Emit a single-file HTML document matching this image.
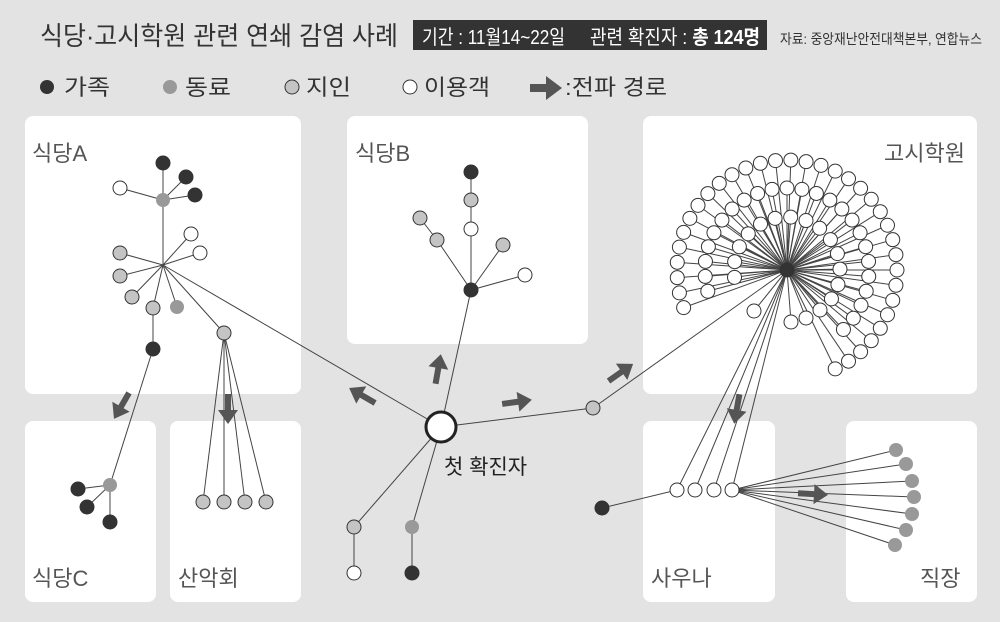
<!DOCTYPE html>
<html><head><meta charset="utf-8"><style>
html,body{margin:0;padding:0;background:#e3e3e3;}
body{width:1000px;height:622px;overflow:hidden;position:relative;font-family:"Liberation Sans","Noto Sans CJK KR",sans-serif;}
svg{position:absolute;left:0;top:0}
</style></head><body>
<svg id="s" width="1000" height="622" viewBox="0 0 1000 622" xmlns="http://www.w3.org/2000/svg" font-family="Liberation Sans, Noto Sans CJK KR, sans-serif">
<rect width="1000" height="622" fill="#e3e3e3"/>
<g fill="#fff">
<rect x="25" y="116" width="276" height="278" rx="8"/>
<rect x="347" y="116" width="241" height="228" rx="8"/>
<rect x="643" y="116" width="334" height="278" rx="8"/>
<rect x="25" y="421" width="131" height="181" rx="8"/>
<rect x="170" y="421" width="131" height="181" rx="8"/>
<rect x="643" y="421" width="132" height="181" rx="8"/>
<rect x="846" y="421" width="131" height="181" rx="8"/>
</g>
<text x="40" y="45" font-size="26" fill="#333" textLength="358" lengthAdjust="spacingAndGlyphs">식당·고시학원 관련 연쇄 감염 사례</text>
<rect x="413" y="20" width="354" height="30" fill="#333"/>
<text x="422" y="44" font-size="20" fill="#fff" textLength="143" lengthAdjust="spacingAndGlyphs">기간 : 11월14~22일</text>
<text x="590" y="44" font-size="20" fill="#fff" textLength="170" lengthAdjust="spacingAndGlyphs">관련 확진자 : <tspan font-weight="bold">총 124명</tspan></text>
<text x="780" y="44" font-size="14" fill="#333" textLength="202" lengthAdjust="spacingAndGlyphs">자료: 중앙재난안전대책본부, 연합뉴스</text>
<circle cx="47" cy="87" r="7" fill="#333"/>
<text x="64" y="95" font-size="22" fill="#333" textLength="46" lengthAdjust="spacingAndGlyphs">가족</text>
<circle cx="170" cy="87" r="7" fill="#999"/>
<text x="185" y="95" font-size="22" fill="#333" textLength="46" lengthAdjust="spacingAndGlyphs">동료</text>
<circle cx="292" cy="87" r="7" fill="#c4c4c4" stroke="#333" stroke-width="1"/>
<text x="306" y="95" font-size="22" fill="#333" textLength="45" lengthAdjust="spacingAndGlyphs">지인</text>
<circle cx="410" cy="87" r="7" fill="#fff" stroke="#333" stroke-width="1"/>
<text x="424" y="95" font-size="22" fill="#333" textLength="66" lengthAdjust="spacingAndGlyphs">이용객</text>
<polygon points="530,84 546,84 546,76 562,88 546,100 546,92 530,92" fill="#555"/>
<text x="565" y="95" font-size="22" fill="#333" textLength="102" lengthAdjust="spacingAndGlyphs">:전파 경로</text>
<g font-size="22" fill="#555">
<text x="32" y="161">식당A</text>
<text x="355" y="161">식당B</text>
<text x="884" y="161">고시학원</text>
<text x="32" y="586">식당C</text>
<text x="178" y="586">산악회</text>
<text x="651" y="586">사우나</text>
<text x="920" y="586">직장</text>
</g>
<text x="444" y="474" font-size="21" fill="#222">첫 확진자</text>
<g id="lines" stroke="#444" stroke-width="1" fill="none"></g>
<g id="nodes" stroke="#333" stroke-width="1"></g>
<g fill="#555" id="arrows"></g>
</svg>
<script>
var L=document.getElementById('lines'),N=document.getElementById('nodes'),A=document.getElementById('arrows');
var ns='http://www.w3.org/2000/svg';
function ln(a,b,c,d){var e=document.createElementNS(ns,'line');e.setAttribute('x1',a);e.setAttribute('y1',b);e.setAttribute('x2',c);e.setAttribute('y2',d);L.appendChild(e);}
var F={b:'#333',g:'#999',l:'#c4c4c4',w:'#fff'};
function nd(x,y,t,r){var e=document.createElementNS(ns,'circle');e.setAttribute('cx',x);e.setAttribute('cy',y);e.setAttribute('r',r||7);e.setAttribute('fill',F[t]);if(t=='g')e.setAttribute('stroke','none');N.appendChild(e);}
function P(x,y,t,px,py){if(px!==undefined)ln(px,py,x,y);nd(x,y,t);}
var hx=163,hy=265;
ln(441,427,hx,hy);
P(163,200,'g',hx,hy);P(163,163,'b',163,200);P(186,177,'b',163,200);P(195,195,'b',163,200);P(120,188,'w',163,200);
P(191,234,'w',hx,hy);P(200,253,'w',hx,hy);P(120,253,'l',hx,hy);P(120,276,'l',hx,hy);P(132,297,'l',hx,hy);P(177,307,'g',hx,hy);
ln(110,485,153,349);
P(153,308,'l',hx,hy);P(153,349,'b',153,308);
[203,224,245,266].forEach(function(x){ln(224,333,x,502);});
P(224,333,'l',hx,hy);
[203,224,245,266].forEach(function(x){nd(x,502,'l');});
P(78,489,'b',110,485);P(87,507,'b',110,485);P(110,522,'b',110,485);nd(110,485,'g');
ln(441,427,471,290);
P(471,229,'w',471,290);P(471,200,'l',471,229);P(471,172,'b',471,200);
P(437,240,'l',471,290);P(420,218,'l',437,240);P(503,245,'l',471,290);P(525,275,'w',471,290);nd(471,290,'b');
P(354,527,'l',441,427);P(354,573,'w',354,527);P(412,527,'g',441,427);P(412,573,'b',412,527);
var fx=787,fy=270;
ln(441,427,593,408);ln(593,408,fx,fy);
var pts=[];
function ring(r,a0,a1,st){for(var a=a0;a<=a1+0.01;a+=st){var t=a*Math.PI/180;pts.push([fx+r*Math.cos(t),fy+r*Math.sin(t)]);}}
ring(110,160,425,8);ring(82,165,410,10.5);ring(53,172,395,17);
pts.push([754,311],[791,322],[806,318],[820,310]);
pts.forEach(function(p){ln(fx,fy,p[0],p[1]);});
pts.forEach(function(p){nd(p[0],p[1],'w');});
[677,695,714,732].forEach(function(x){ln(fx,fy,x,490);});
ln(602,508,677,490);nd(602,508,'b');
var wk=[[896,450],[906,464],[912,481],[914,497],[912,514],[906,530],[895,545]];
wk.forEach(function(p){ln(732,490,p[0],p[1]);});
wk.forEach(function(p){nd(p[0],p[1],'g');});
[677,695,714,732].forEach(function(x){nd(x,490,'w');});
nd(593,408,'l');nd(fx,fy,'b');
var c=document.createElementNS(ns,'circle');c.setAttribute('cx',441);c.setAttribute('cy',427);c.setAttribute('r',15);c.setAttribute('fill','#fff');c.setAttribute('stroke','#222');c.setAttribute('stroke-width','3');N.appendChild(c);
function ar(x,y,a){var g=document.createElementNS(ns,'polygon');g.setAttribute('points','-14,-3 2,-3 2,-10 16,0 2,10 2,3 -14,3');g.setAttribute('transform','translate('+x+','+y+') rotate('+a+')');A.appendChild(g);}
ar(122,405,120);ar(228,408,90);ar(363,396,-150);ar(438,370,-80);ar(516,402,-8);ar(620,373,-35);ar(737,408,100);ar(812,494,3);
</script>
</body></html>
